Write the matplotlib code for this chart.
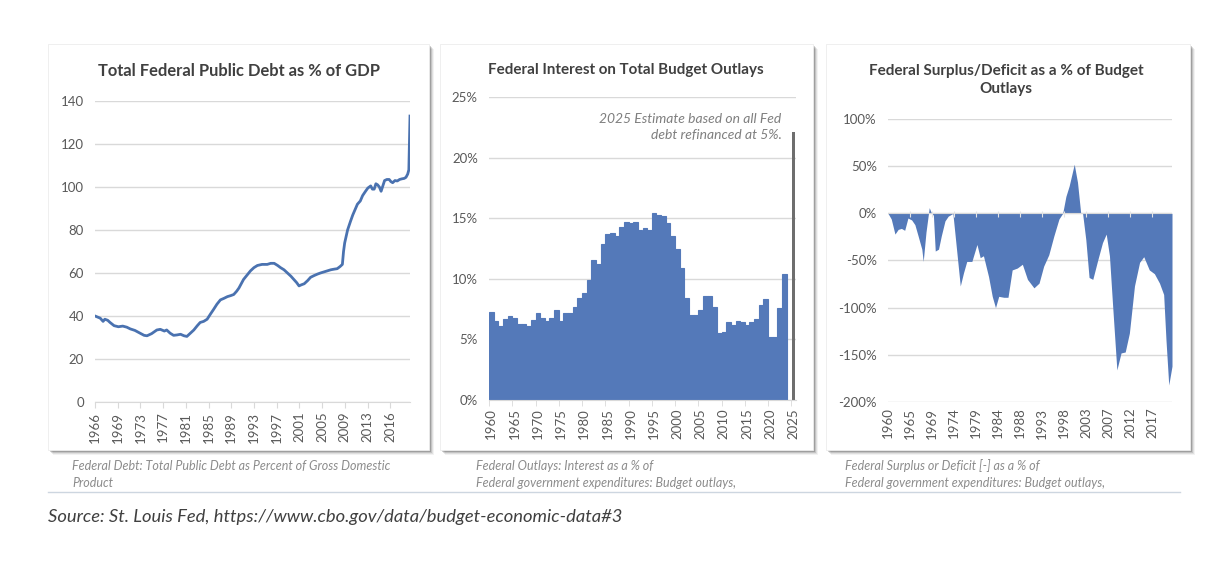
import matplotlib
matplotlib.use("Agg")
import matplotlib.pyplot as plt
from matplotlib.patches import Rectangle
from matplotlib.ticker import FuncFormatter
import numpy as np

plt.rcParams['font.family'] = ['Lato', 'DejaVu Sans']

W, H = 1222, 568
BLUE = '#5479b9'
GRID = '#d9d9d9'
TICK = '#595959'
TITLE = '#404040'
CAPTION = '#8c8c8c'

# --- Panel 1: total public debt as % of GDP (year, value) ---
debt_years = [1966.0, 1966.9, 1967.4, 1967.7, 1968.2, 1968.6, 1969.3, 1970.05, 1970.8, 1971.5,
              1972.1, 1972.9, 1973.8, 1974.5, 1975.0, 1975.8, 1976.7, 1977.3, 1978.0, 1978.4,
              1979.0, 1979.6, 1980.2, 1980.8, 1981.4, 1981.9, 1982.5, 1983.1, 1983.7, 1984.2,
              1984.8, 1985.4, 1986.0, 1986.5, 1987.1, 1987.7, 1988.3, 1988.9, 1989.5, 1990.0,
              1990.5, 1990.9, 1991.3, 1991.7, 1992.3, 1992.9, 1993.5, 1994.1, 1994.9, 1995.8,
              1996.4, 1997.0, 1997.6, 1998.1, 1998.7, 1999.3, 1999.9, 2000.4, 2000.9, 2001.3,
              2001.7, 2002.2, 2002.8, 2003.3, 2003.9, 2004.5, 2005.0, 2005.6, 2006.2, 2006.8,
              2007.4, 2007.9, 2008.4, 2008.8, 2009.0, 2009.2, 2009.7, 2010.2, 2010.6, 2011.0,
              2011.4, 2011.9, 2012.3, 2012.8, 2013.2, 2013.7, 2014.0, 2014.3, 2014.6, 2014.9,
              2015.2, 2015.5, 2015.8, 2016.1, 2016.5, 2016.9, 2017.2, 2017.5, 2017.9, 2018.3,
              2018.7, 2019.1, 2019.5, 2019.8, 2020.1, 2020.3, 2020.5]
debt_values = [40.0, 39.0, 37.5, 38.5, 38.0, 37.0, 35.5, 35.0, 35.3, 34.8,
               34.0, 33.3, 32.0, 31.0, 30.8, 31.8, 33.5, 33.8, 33.0, 33.5,
               32.0, 31.0, 31.2, 31.5, 30.8, 30.5, 32.0, 33.5, 35.5, 37.0,
               37.5, 38.5, 41.0, 43.0, 45.5, 47.5, 48.2, 49.0, 49.5, 50.0,
               51.5, 53.0, 55.0, 57.0, 59.0, 61.0, 62.5, 63.5, 64.0, 64.0,
               64.5, 64.5, 63.5, 62.5, 61.5, 60.0, 58.5, 57.0, 55.5, 54.0,
               54.5, 55.0, 56.5, 58.0, 58.8, 59.5, 60.0, 60.5, 61.0, 61.5,
               61.8, 62.0, 63.0, 64.0, 70.0, 74.0, 80.0, 84.0, 87.0, 89.5,
               92.0, 93.5, 96.0, 98.0, 99.5, 100.5, 99.0, 99.0, 101.5, 101.0,
               100.0, 98.0, 100.5, 103.0, 103.5, 103.5, 102.5, 102.0, 103.0, 102.8,
               103.5, 103.8, 104.0, 104.5, 106.0, 108.0, 133.0]
debt_tick_labels = ['1966', '1969', '1973', '1977', '1981', '1985', '1989', '1993',
                    '1997', '2001', '2005', '2009', '2013', '2016']

# --- Panel 2: net interest as % of budget outlays, 1960-2023, plus 2025 estimate ---
interest_years = list(range(1960, 2024))
interest_values = [7.3, 6.5, 6.1, 6.7, 6.9, 6.8, 6.3, 6.3, 6.1, 6.6,
                   7.15, 6.8, 6.5, 6.75, 7.4, 6.55, 7.15, 7.2, 7.65, 8.4,
                   8.8, 9.9, 11.55, 11.2, 12.9, 13.7, 13.75, 13.55, 14.3, 14.7,
                   14.6, 14.7, 14.0, 14.2, 14.0, 15.4, 15.3, 15.2, 14.6, 13.5,
                   12.5, 10.9, 8.4, 7.0, 7.0, 7.4, 8.6, 8.55, 7.7, 5.55,
                   5.6, 6.45, 6.2, 6.55, 6.4, 6.15, 6.4, 6.7, 7.8, 8.3,
                   5.2, 5.2, 7.6, 10.4]
estimate_year = 2025
estimate_value = 22.1
interest_tick_labels = [str(y) for y in range(1960, 2030, 5)]

# --- Panel 3: surplus/deficit as % of budget outlays (year, value) ---
deficit_years = [1960.0, 1960.7, 1961.5, 1962.2, 1962.9, 1963.6, 1964.3, 1965.1, 1965.8, 1966.5,
                 1967.3, 1967.6, 1968.2, 1968.9, 1969.4, 1969.8, 1970.2, 1970.9, 1971.5, 1972.3,
                 1973.0, 1973.7, 1974.0, 1974.5, 1975.6, 1976.3, 1977.0, 1978.1, 1979.2, 1979.9,
                 1980.6, 1981.7, 1982.5, 1983.2, 1983.9, 1985.0, 1985.9, 1986.8, 1987.9, 1989.0,
                 1990.1, 1991.5, 1992.6, 1993.6, 1994.7, 1995.8, 1996.9, 1997.7, 1998.4, 1999.1,
                 2000.2, 2000.9, 2001.6, 2002.0, 2002.7, 2003.4, 2004.2, 2005.3, 2006.3, 2007.1,
                 2007.8, 2008.5, 2009.4, 2010.3, 2011.2, 2012.1, 2013.2, 2014.3, 2015.2, 2016.4,
                 2017.5, 2018.6, 2019.5, 2020.0, 2020.6, 2021.3]
deficit_values = [0, -6, -22, -17, -16, -18, -5, -7, -12, -24,
                  -38, -51, -20, 6, 0, -2, -40, -38, -24, -8,
                  -3, -1, 0, -24, -77, -63, -51, -51, -33, -47,
                  -45, -67, -88, -100, -88, -89, -89, -60, -58, -54,
                  -70, -79, -74, -56, -44, -24, -6, 0, 18, 29,
                  52, 33, 0, 0, -28, -68, -70, -49, -31, -22,
                  -45, -99, -166, -148, -147, -127, -77, -52, -46, -60,
                  -64, -74, -86, -134, -182, -162]
deficit_tick_labels = ['1960', '1965', '1969', '1974', '1979', '1984', '1988', '1993',
                       '1998', '2003', '2007', '2012', '2017']


def px_axes(fig, left, top, right, bottom):
    ax = fig.add_axes([left / W, 1 - bottom / H, (right - left) / W, (bottom - top) / H])
    ax.set_zorder(5)
    return ax


def panel_box(fig, left, top, right, bottom):
    # soft shadow on the right and bottom, then the white card
    for i, a in enumerate([0.05, 0.08, 0.12, 0.18]):
        off = 5 - i
        fig.patches.append(Rectangle(((left + off) / W, 1 - (bottom + off) / H),
                                     (right - left) / W, (bottom - top) / H,
                                     transform=fig.transFigure, facecolor='black',
                                     alpha=a, edgecolor='none', zorder=-10))
    fig.patches.append(Rectangle((left / W, 1 - bottom / H), (right - left) / W,
                                 (bottom - top) / H, transform=fig.transFigure,
                                 facecolor='white', edgecolor='#ececec', lw=0.6, zorder=-9))


def style_axes(ax):
    ax.set_facecolor('none')
    for s in ['top', 'right', 'left']:
        ax.spines[s].set_visible(False)
    ax.spines['bottom'].set_color(GRID)
    ax.grid(axis='y', color=GRID, lw=1)
    ax.set_axisbelow(True)
    ax.tick_params(axis='y', length=0, labelsize=9.5, colors=TICK, pad=8)
    ax.tick_params(axis='x', labelsize=9.5, colors=TICK, labelrotation=90, color=GRID)


fig = plt.figure(figsize=(W / 100, H / 100), dpi=100)
fig.patch.set_facecolor('white')

panel_box(fig, 48, 44, 429, 450)
panel_box(fig, 440, 44, 813, 450)
panel_box(fig, 826, 44, 1190, 450)

# Panel 1
ax1 = px_axes(fig, 95, 101, 410, 402)
style_axes(ax1)
ax1.plot(debt_years, debt_values, color='#4a72b0', lw=2.0, solid_joinstyle='round')
ax1.set_xlim(1966, 2020.5)
ax1.set_ylim(0, 140)
ax1.set_yticks(range(0, 141, 20))
ax1.set_xticks(1966 + np.arange(len(debt_tick_labels)) * 3.93)
ax1.set_xticklabels(debt_tick_labels)
ax1.tick_params(axis='x', length=4, direction='out', pad=3)
fig.text(239 / W, 1 - 71 / H, 'Total Federal Public Debt as % of GDP', ha='center',
         va='center', fontsize=11.9, fontweight='bold', color=TITLE)

# Panel 2
ax2 = px_axes(fig, 489, 97, 796, 400)
style_axes(ax2)
ax2.bar(interest_years, interest_values, width=1.0, color=BLUE, edgecolor=BLUE, lw=0.8)
ax2.bar([estimate_year], [estimate_value], width=0.55, color='#6e6e6e')
ax2.set_xlim(1959.5, 2025.5)
ax2.set_ylim(0, 25)
ax2.set_yticks(range(0, 26, 5))
ax2.yaxis.set_major_formatter(FuncFormatter(lambda v, p: f'{v:.0f}%'))
ax2.set_xticks(range(1960, 2026, 5))
ax2.set_xticklabels(interest_tick_labels)
ax2.set_xticks(np.arange(1959.5, 2026, 5), minor=True)
ax2.tick_params(axis='x', which='major', length=0, pad=6)
ax2.tick_params(axis='x', which='minor', length=4, color=GRID)
ax2.text(2022.4, 23.7, '2025 Estimate based on all Fed\ndebt refinanced at 5%.',
         ha='right', va='top', fontsize=10, style='italic', color='#7f7f7f',
         linespacing=1.4)
fig.text(626 / W, 1 - 70 / H, 'Federal Interest on Total Budget Outlays', ha='center',
         va='center', fontsize=10.9, fontweight='bold', color=TITLE)

# Panel 3
ax3 = px_axes(fig, 888, 119, 1172, 402)
style_axes(ax3)
ax3.spines['bottom'].set_visible(False)
ax3.fill_between(deficit_years, deficit_values, 0, color=BLUE, lw=0)
ax3.set_xlim(1960, 2021.3)
ax3.set_ylim(-200, 100)
ax3.set_yticks(range(-200, 101, 50))
ax3.yaxis.set_major_formatter(FuncFormatter(lambda v, p: f'{v:.0f}%'))
d_ticks = 1960 + np.arange(len(deficit_tick_labels)) * 4.75
ax3.set_xticks(d_ticks)
ax3.set_xticklabels(deficit_tick_labels)
ax3.tick_params(axis='x', length=0, pad=4)
ax3.axhline(0, color=GRID, lw=0.8, zorder=3)
ax3.vlines(d_ticks[1:], -4, 2, color='#e4e4e4', lw=0.8, zorder=3)
fig.text(1006 / W, 1 - 80 / H, 'Federal Surplus/Deficit as a % of Budget\nOutlays',
         ha='center', va='center', fontsize=11.0, fontweight='bold', color=TITLE,
         linespacing=1.35)

# captions under each panel
cap_kw = dict(fontsize=9, style='italic', color=CAPTION, va='center', ha='left')
fig.text(72 / W, 1 - 466 / H, 'Federal Debt: Total Public Debt as Percent of Gross Domestic', **cap_kw)
fig.text(72 / W, 1 - 483 / H, 'Product', **cap_kw)
fig.text(476 / W, 1 - 466 / H, 'Federal Outlays: Interest as a % of', **cap_kw)
fig.text(476 / W, 1 - 483 / H, 'Federal government expenditures: Budget outlays,', **cap_kw)
fig.text(845 / W, 1 - 466 / H, 'Federal Surplus or Deficit [-] as a % of', **cap_kw)
fig.text(845 / W, 1 - 483 / H, 'Federal government expenditures: Budget outlays,', **cap_kw)

fig.add_artist(plt.Line2D([48 / W, 1180 / W], [1 - 492 / H, 1 - 492 / H],
                          transform=fig.transFigure, color='#cdd6e0', lw=1))
fig.text(48 / W, 1 - 517 / H, 'Source: St. Louis Fed, https://www.cbo.gov/data/budget-economic-data#3',
         fontsize=13.2, style='italic', color='#404040', va='center', ha='left')

fig.savefig('out.png', dpi=100, facecolor='white')
